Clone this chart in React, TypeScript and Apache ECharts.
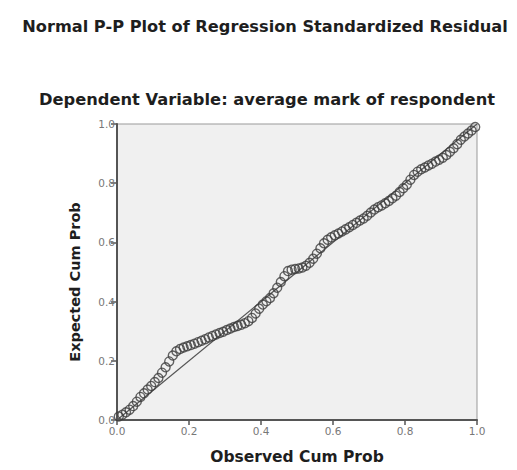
import React, { useEffect, useRef } from "react";
import * as echarts from "echarts";

const titleText = "Normal P-P Plot of Regression Standardized Residual";
const subtitleText = "Dependent Variable: average mark of respondent";
const xAxisName = "Observed Cum Prob";
const yAxisName = "Expected Cum Prob";

const observed = [
  0.005, 0.015, 0.025, 0.035, 0.045, 0.055, 0.065, 0.075, 0.085, 0.095,
  0.105, 0.115, 0.125, 0.135, 0.145, 0.155, 0.165, 0.175, 0.185, 0.195,
  0.205, 0.215, 0.225, 0.235, 0.245, 0.255, 0.265, 0.275, 0.285, 0.295,
  0.305, 0.315, 0.325, 0.335, 0.345, 0.355, 0.365, 0.375, 0.385, 0.395,
  0.405, 0.415, 0.425, 0.435, 0.445, 0.455, 0.465, 0.475, 0.485, 0.495,
  0.505, 0.515, 0.525, 0.535, 0.545, 0.555, 0.565, 0.575, 0.585, 0.595,
  0.605, 0.615, 0.625, 0.635, 0.645, 0.655, 0.665, 0.675, 0.685, 0.695,
  0.705, 0.715, 0.725, 0.735, 0.745, 0.755, 0.765, 0.775, 0.785, 0.795,
  0.805, 0.815, 0.825, 0.835, 0.845, 0.855, 0.865, 0.875, 0.885, 0.895,
  0.905, 0.915, 0.925, 0.935, 0.945, 0.955, 0.965, 0.975, 0.985, 0.995,
];

const expected = [
  0.012, 0.018, 0.026, 0.035, 0.047, 0.062, 0.078, 0.09, 0.103, 0.115,
  0.128, 0.142, 0.16, 0.178, 0.198, 0.218, 0.232, 0.24, 0.245, 0.249,
  0.253, 0.258, 0.263, 0.268, 0.273, 0.279, 0.284, 0.289, 0.294, 0.298,
  0.304, 0.309, 0.314, 0.318, 0.322, 0.327, 0.334, 0.345, 0.36, 0.376,
  0.39, 0.401, 0.412, 0.428, 0.447, 0.466, 0.486, 0.503, 0.508, 0.51,
  0.512, 0.515, 0.521, 0.531, 0.545, 0.562, 0.58, 0.597, 0.609, 0.617,
  0.624, 0.63, 0.637, 0.644, 0.651, 0.659, 0.666, 0.674, 0.681, 0.69,
  0.701, 0.711, 0.719, 0.725, 0.732, 0.74, 0.749, 0.758, 0.77, 0.783,
  0.795, 0.812, 0.828, 0.839, 0.847, 0.853, 0.86, 0.866, 0.873, 0.879,
  0.886, 0.895, 0.906, 0.918, 0.932, 0.947, 0.958, 0.968, 0.978, 0.99,
];

const referenceLine = [
  [0, 0],
  [1, 1],
];

const FONT = "DejaVu Sans";

export default function App() {
  const ref = useRef<HTMLDivElement>(null);
  useEffect(() => {
    if (!ref.current) return;
    const chart = echarts.init(ref.current, null, { renderer: "svg" });
    const points = observed.map((x, i) => [x, expected[i]]);
    chart.setOption({
      animation: false,
      backgroundColor: "#ffffff",
      title: [
        {
          text: titleText,
          left: 260,
          top: 13,
          textAlign: "center",
          textStyle: { fontFamily: FONT, fontSize: 16.2, fontWeight: "bold", color: "#1e1e1e" },
        },
        {
          text: subtitleText,
          left: 262,
          top: 86,
          textAlign: "center",
          textStyle: { fontFamily: FONT, fontSize: 16.3, fontWeight: "bold", color: "#1e1e1e" },
        },
      ],
      grid: {
        left: 117,
        top: 124,
        width: 360,
        height: 301,
        show: true,
        backgroundColor: "#f0f0f0",
        borderColor: "#999999",
        borderWidth: 1,
      },
      xAxis: {
        type: "value",
        min: 0,
        max: 1,
        interval: 0.2,
        name: xAxisName,
        nameLocation: "middle",
        nameGap: 29,
        nameTextStyle: { fontFamily: FONT, fontSize: 15.5, fontWeight: "bold", color: "#1e1e1e" },
        axisLine: { show: true, lineStyle: { color: "#555555", width: 2 } },
        axisTick: { show: true, length: 5, lineStyle: { color: "#555555", width: 1.5 } },
        axisLabel: {
          fontFamily: FONT,
          fontSize: 10.5,
          color: "#777777",
          margin: 5,
          formatter: (v: number) => v.toFixed(1),
        },
        splitLine: { show: false },
      },
      yAxis: {
        type: "value",
        min: 0,
        max: 1,
        interval: 0.2,
        name: yAxisName,
        nameLocation: "middle",
        nameGap: 35,
        nameRotate: 90,
        nameTextStyle: {
          fontFamily: FONT,
          fontSize: 14.5,
          fontWeight: "bold",
          color: "#1e1e1e",
          padding: [0, 20, 0, 0],
        },
        axisLine: { show: true, lineStyle: { color: "#555555", width: 2 } },
        axisTick: { show: true, length: 6, lineStyle: { color: "#555555", width: 1.5 } },
        axisLabel: {
          fontFamily: FONT,
          fontSize: 10.5,
          color: "#777777",
          margin: 2,
          formatter: (v: number) => v.toFixed(1),
        },
        splitLine: { show: false },
      },
      series: [
        {
          type: "line",
          data: referenceLine,
          symbol: "none",
          lineStyle: { color: "#555555", width: 1.2 },
          silent: true,
          z: 2,
        },
        {
          type: "scatter",
          data: points,
          symbol: "circle",
          symbolSize: 9,
          itemStyle: { color: "rgba(0,0,0,0)", borderColor: "#3c3c3c", borderWidth: 1.4 },
          z: 3,
        },
      ],
    });
    return () => chart.dispose();
  }, []);
  return (
    <div
      ref={ref}
      style={{ position: "fixed", left: 0, top: 0, width: 517, height: 470 }}
    />
  );
}
